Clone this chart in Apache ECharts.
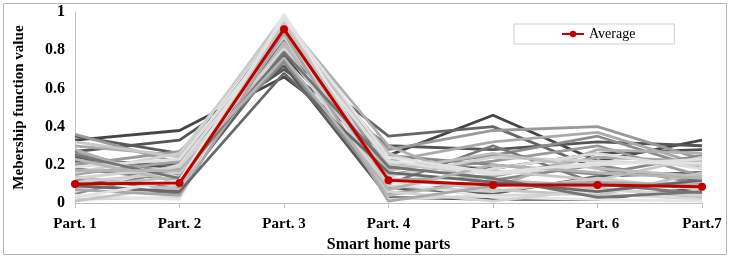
<!DOCTYPE html>
<html>
<head>
<meta charset="utf-8">
<script src="https://cdn.jsdelivr.net/npm/echarts@6/dist/echarts.min.js"></script>
<style>
html, body { margin: 0; padding: 0; background: #fff; }
#chart { width: 730px; height: 258px; }
</style>
</head>
<body>
<div id="chart"></div>
<script>
// categories and tick labels
const parts = ['Part. 1', 'Part. 2', 'Part. 3', 'Part. 4', 'Part. 5', 'Part. 6', 'Part.7'];
const yTicks = [0, 0.2, 0.4, 0.6, 0.8, 1];

// average line
const average = [0.10, 0.105, 0.91, 0.12, 0.095, 0.095, 0.085];

// individual membership lines
const line01 = [0.33, 0.38, 0.66, 0.25, 0.46, 0.22, 0.33];
const line02 = [0.27, 0.33, 0.70, 0.30, 0.28, 0.32, 0.30];
const line03 = [0.24, 0.18, 0.77, 0.20, 0.18, 0.26, 0.28];
const line04 = [0.22, 0.20, 0.75, 0.08, 0.05, 0.14, 0.16];
const line05 = [0.35, 0.26, 0.72, 0.03, 0.02, 0.02, 0.08];
const line06 = [0.12, 0.08, 0.78, 0.35, 0.40, 0.18, 0.12];
const line07 = [0.36, 0.21, 0.82, 0.28, 0.38, 0.40, 0.23];
const line08 = [0.30, 0.25, 0.85, 0.22, 0.32, 0.37, 0.20];
const line09 = [0.26, 0.15, 0.88, 0.18, 0.25, 0.35, 0.18];
const line10 = [0.20, 0.27, 0.80, 0.15, 0.22, 0.30, 0.14];
const line11 = [0.18, 0.12, 0.90, 0.25, 0.20, 0.15, 0.25];
const line12 = [0.15, 0.22, 0.93, 0.12, 0.14, 0.24, 0.22];
const line13 = [0.10, 0.05, 0.86, 0.10, 0.30, 0.10, 0.05];
const line14 = [0.05, 0.18, 0.74, 0.05, 0.12, 0.20, 0.10];
const line15 = [0.28, 0.10, 0.96, 0.30, 0.08, 0.28, 0.26];
const line16 = [0.32, 0.24, 0.98, 0.20, 0.17, 0.12, 0.24];
const line17 = [0.16, 0.26, 0.95, 0.14, 0.24, 0.22, 0.20];
const line18 = [0.08, 0.14, 0.92, 0.26, 0.10, 0.08, 0.03];
const line19 = [0.06, 0.20, 0.89, 0.07, 0.18, 0.26, 0.18];
const line20 = [0.02, 0.03, 0.97, 0.02, 0.04, 0.05, 0.02];
const line21 = [0.14, 0.07, 0.84, 0.17, 0.26, 0.18, 0.14];
const line22 = [0.19, 0.23, 0.91, 0.22, 0.15, 0.20, 0.23];
const line23 = [0.11, 0.16, 0.87, 0.09, 0.06, 0.13, 0.07];
const line24 = [0.04, 0.02, 0.99, 0.11, 0.03, 0.02, 0.01];
const line25 = [0.23, 0.11, 0.83, 0.04, 0.12, 0.09, 0.11];
const line26 = [0.01, 0.09, 0.94, 0.13, 0.07, 0.04, 0.16];
const line27 = [0.13, 0.19, 0.81, 0.06, 0.01, 0.07, 0.04];
const line28 = [0.07, 0.04, 0.89, 0.01, 0.09, 0.11, 0.09];
const line29 = [0.25, 0.13, 0.79, 0.19, 0.13, 0.03, 0.06];
const line30 = [0.09, 0.06, 0.68, 0.16, 0.11, 0.06, 0.12];
const line31 = [0.17, 0.17, 0.76, 0.07, 0.20, 0.16, 0.13];
const line32 = [0.03, 0.12, 0.97, 0.24, 0.16, 0.21, 0.21];

const lines = [line01, line02, line03, line04, line05, line06, line07, line08,
  line09, line10, line11, line12, line13, line14, line15, line16,
  line17, line18, line19, line20, line21, line22, line23, line24,
  line25, line26, line27, line28, line29, line30, line31, line32];
const shades = ['#454545', '#555555', '#505050', '#606060', '#5a5a5a', '#666666', '#999999', '#aaaaaa',
  '#8c8c8c', '#9a9a9a', '#888888', '#a5a5a5', '#7a7a7a', '#8a8a8a', '#b0b0b0', '#c8c8c8',
  '#d0d0d0', '#c0c0c0', '#dcdcdc', '#d8d8d8', '#bdbdbd', '#e0e0e0', '#cfcfcf', '#e6e6e6',
  '#b8b8b8', '#c4c4c4', '#d4d4d4', '#a8a8a8', '#747474', '#686868', '#b4b4b4', '#e2e2e2'];

const serif = "'Liberation Serif', 'Times New Roman', serif";

var myChart = echarts.init(document.getElementById('chart'));

const series = lines.map((d, i) => ({
  name: 'line' + (i + 1),
  type: 'line',
  data: d,
  symbol: 'none',
  silent: true,
  lineStyle: { color: shades[i], width: 2.8 },
  z: 2
}));
series.push({
  name: 'Average',
  type: 'line',
  data: average,
  symbol: 'circle',
  symbolSize: 8,
  itemStyle: { color: '#c00000' },
  lineStyle: { color: '#c00000', width: 3 },
  z: 5
});

myChart.setOption({
  animation: false,
  graphic: [{
    type: 'rect',
    shape: { x: 3.5, y: 3.5, width: 723, height: 251 },
    style: { fill: 'none', stroke: '#b5b5b5', lineWidth: 1 },
    silent: true
  }],
  legend: {
    data: ['Average'],
    left: 514,
    top: 24,
    padding: [3, 39, 3, 47],
    itemWidth: 22,
    itemHeight: 8,
    itemGap: 5,
    borderColor: '#d0d0d0',
    borderWidth: 1,
    textStyle: { fontFamily: serif, fontSize: 14, color: '#000' }
  },
  grid: { left: 75, right: 28, top: 12, bottom: 54 },
  xAxis: {
    type: 'category',
    data: parts,
    boundaryGap: false,
    name: 'Smart home parts',
    nameLocation: 'middle',
    nameGap: 27,
    nameTextStyle: { fontFamily: serif, fontSize: 16, fontWeight: 'bold', color: '#000' },
    axisLine: { lineStyle: { color: '#bfbfbf', width: 1 } },
    axisTick: { show: true, length: 5, lineStyle: { color: '#bfbfbf' } },
    axisLabel: { fontFamily: serif, fontSize: 15, fontWeight: 'bold', color: '#000', margin: 14 },
    splitLine: { show: false }
  },
  yAxis: {
    type: 'value',
    min: yTicks[0],
    max: yTicks[yTicks.length - 1],
    interval: 0.2,
    name: 'Mebership function value',
    nameLocation: 'middle',
    nameGap: 48,
    nameTextStyle: { fontFamily: serif, fontSize: 15, fontWeight: 'bold', color: '#000' },
    axisLine: { show: true, lineStyle: { color: '#bfbfbf', width: 1 } },
    axisTick: { show: false },
    axisLabel: { fontFamily: serif, fontSize: 16, fontWeight: 'bold', color: '#000', margin: 10 },
    splitLine: { show: false }
  },
  series: series
});
</script>
</body>
</html>
